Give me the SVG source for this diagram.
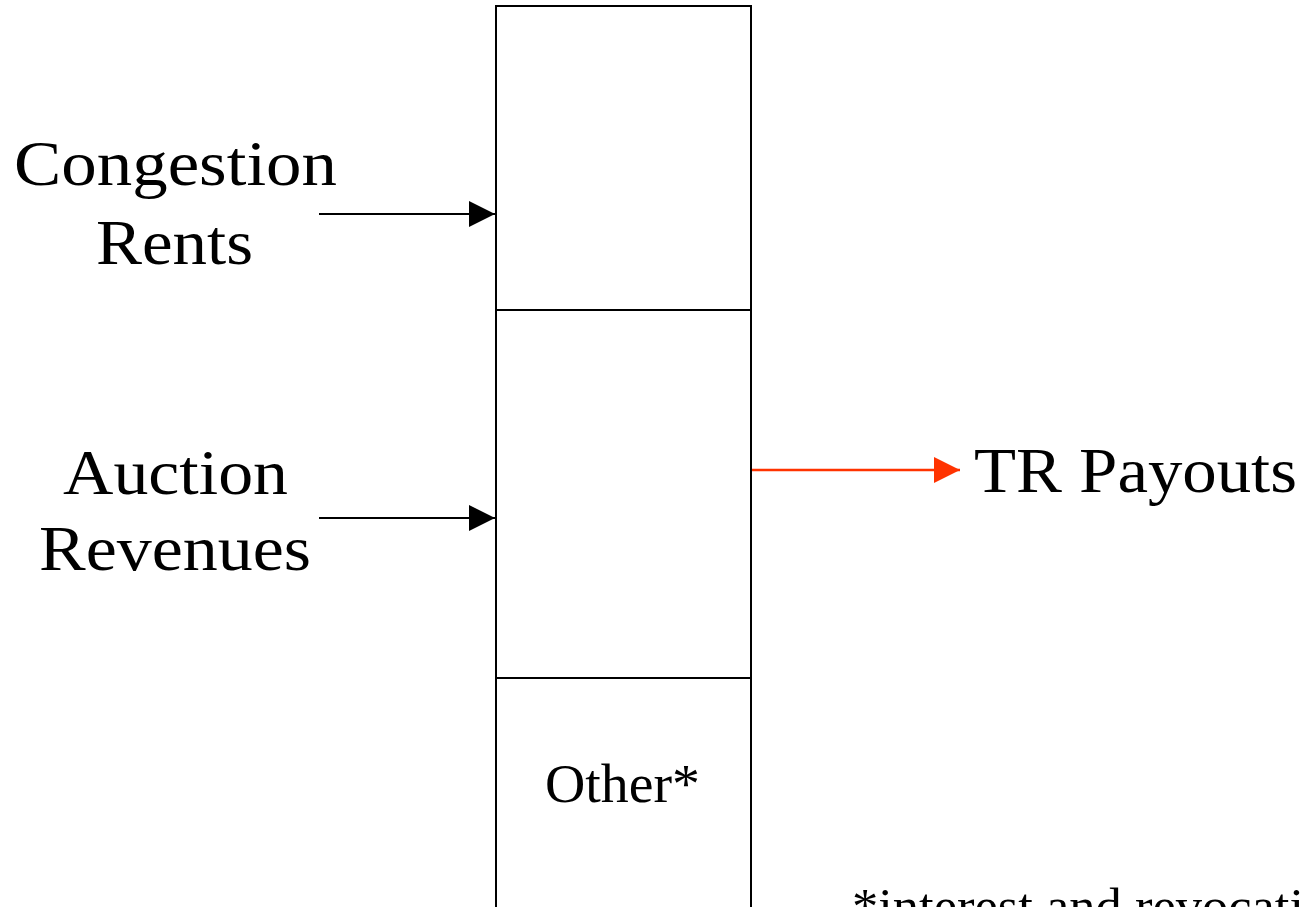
<svg xmlns="http://www.w3.org/2000/svg" width="1304" height="907" viewBox="0 0 1304 907">
<style>
.lbl{font-family:"Liberation Serif","DejaVu Serif",serif;font-size:64px;fill:#000}
.sm{font-family:"Liberation Serif","DejaVu Serif",serif;font-size:54px;fill:#000}
.box{fill:#fff;stroke:#000;stroke-width:2}
.div{stroke:#000;stroke-width:2}
.conn{stroke:#000;stroke-width:2;fill:none}
.out{stroke:#FF3300;stroke-width:2.5;fill:none}
</style>
<defs>
<marker id="ah" markerUnits="userSpaceOnUse" markerWidth="27" markerHeight="26" refX="26" refY="13" orient="auto">
<path d="M0,0 L26,13 L0,26 z" fill="#000"/>
</marker>
<marker id="ahr" markerUnits="userSpaceOnUse" markerWidth="27" markerHeight="26" refX="26" refY="13" orient="auto">
<path d="M0,0 L26,13 L0,26 z" fill="#FF3300"/>
</marker>
</defs>
<rect width="1304" height="907" fill="#fff"/>
<g id="fund-box">
<rect class="box" x="496" y="6" width="255" height="920"/>
<line class="div" x1="496" y1="310" x2="751" y2="310"/>
<line class="div" x1="496" y1="678" x2="751" y2="678"/>
<text class="sm" x="545" y="802" textLength="155" lengthAdjust="spacingAndGlyphs">Other*</text>
</g>
<g id="congestion-rents">
<text class="lbl" x="14" y="185" textLength="323" lengthAdjust="spacingAndGlyphs">Congestion</text>
<text class="lbl" x="96" y="264" textLength="157" lengthAdjust="spacingAndGlyphs">Rents</text>
</g>
<g id="auction-revenues">
<text class="lbl" x="63" y="494" textLength="225" lengthAdjust="spacingAndGlyphs">Auction</text>
<text class="lbl" x="39" y="570" textLength="272" lengthAdjust="spacingAndGlyphs">Revenues</text>
</g>
<g id="tr-payouts">
<text class="lbl" x="974" y="492" textLength="323" lengthAdjust="spacingAndGlyphs">TR Payouts</text>
</g>
<g id="footnote">
<text class="sm" x="852" y="923" style="font-size:50px" textLength="452" lengthAdjust="spacingAndGlyphs">*interest and revocati</text>
</g>
<g id="connectors">
<line class="conn" x1="319" y1="214" x2="495" y2="214" marker-end="url(#ah)"/>
<line class="conn" x1="319" y1="518" x2="495" y2="518" marker-end="url(#ah)"/>
<line class="out" x1="752" y1="470" x2="960" y2="470" marker-end="url(#ahr)"/>
</g>
</svg>
